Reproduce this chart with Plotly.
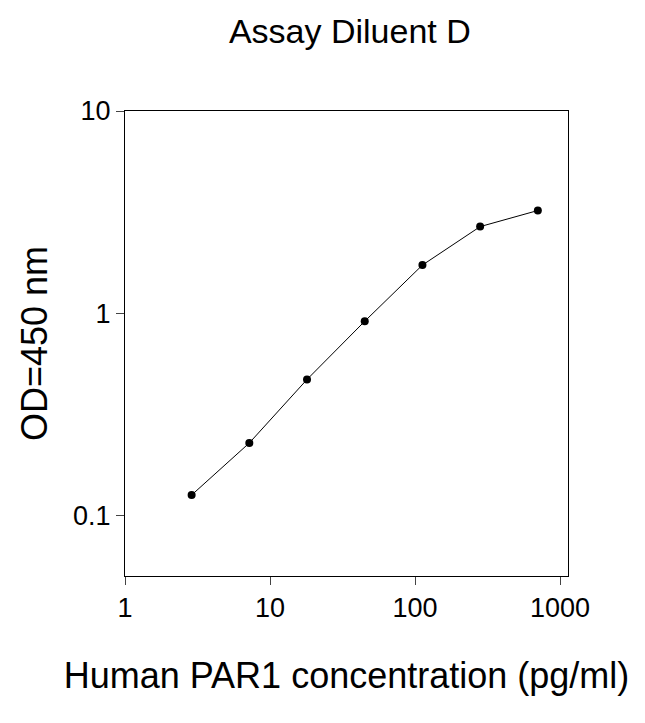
import plotly.graph_objects as go

# Standard curve readings
conc = [2.88, 7.2, 18, 45, 112.5, 281.25, 703.1]
od = [0.126, 0.228, 0.47, 0.912, 1.73, 2.68, 3.22]

fig = go.Figure()
fig.add_trace(go.Scatter(
    x=conc, y=od, mode="lines+markers",
    line=dict(color="black", width=1),
    marker=dict(color="black", size=8),
))

fam = "Arial, Liberation Sans"
fig.update_layout(
    width=645, height=723,
    paper_bgcolor="white", plot_bgcolor="white",
    margin=dict(l=117, r=85, t=103, b=155),
    showlegend=False,
    font=dict(family=fam, size=27, color="black"),
    title=dict(text="Assay Diluent D", x=0.53, xanchor="center", y=0.968, yanchor="middle",
               font=dict(family=fam, size=34, color="black")),
)
fig.update_xaxes(
    type="log", range=[0, 3.055],
    tickvals=[1, 10, 100, 1000], ticktext=["1", "10", "100", "1000"],
    ticks="outside", ticklen=8, showgrid=False,
    showline=True, linecolor="black", linewidth=1, mirror=True,
    title=dict(text="Human PAR1 concentration (pg/ml)", standoff=40,
               font=dict(family=fam, size=36, color="black")),
)
fig.update_yaxes(
    type="log", range=[-1.3, 1],
    tickvals=[0.1, 1, 10], ticktext=["0.1", "1", "10"],
    ticks="outside", ticklen=8, showgrid=False,
    showline=True, linecolor="black", linewidth=1, mirror=True,
    title=dict(text="OD=450 nm", standoff=14,
               font=dict(family=fam, size=36, color="black")),
)

fig.write_html("out.html")
